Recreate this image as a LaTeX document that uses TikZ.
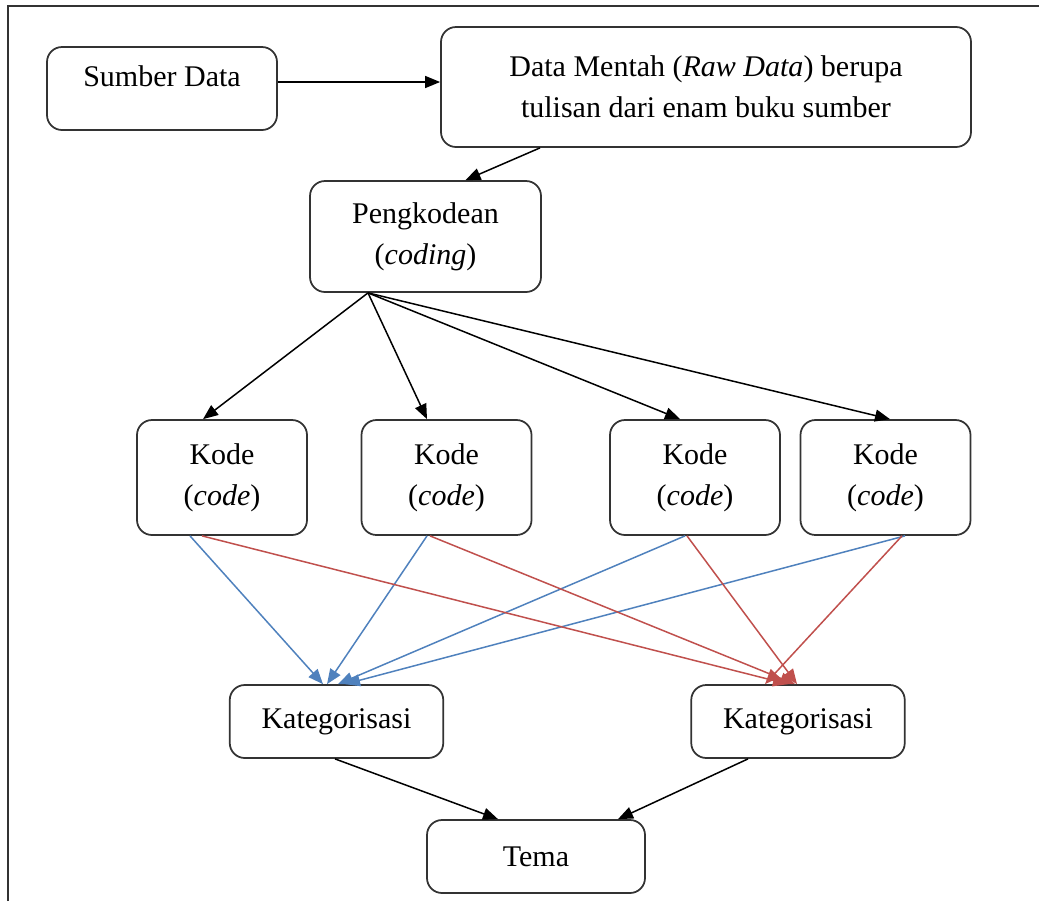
\documentclass[tikz,border=0pt]{standalone}
\usepackage{fontspec}
\setmainfont{Liberation Serif}
\usetikzlibrary{arrows.meta,calc}
\definecolor{codeblue}{RGB}{79,129,189}
\definecolor{codered}{RGB}{192,80,77}

\begin{document}
\begin{tikzpicture}[x=0.4pt,y=-0.4pt,
    box/.style={draw=black!80,line width=0.7pt,rounded corners=6pt,align=center,inner sep=0pt,
        font=\fontsize{12}{16.5}\selectfont},
    kode/.style={box,minimum width=68pt,minimum height=46pt},
    kat/.style={box,minimum width=85.4pt,minimum height=29.2pt},
    link/.style={line width=0.6pt,-{Triangle[length=6pt,width=4.8pt]}}]
    \useasboundingbox (0,0) rectangle (1039,901);
    \draw[line width=0.8pt,black!80] (8,901) -- (8,6) -- (1039,6);

    \node[box,minimum width=92pt,minimum height=33.2pt,text depth=10pt] (src) at (162,88.5) {Sumber Data};
    \node[box,minimum width=212pt,minimum height=48pt] (raw) at (706,87)
        {Data Mentah (\textit{Raw Data}) berupa\\tulisan dari enam buku sumber};
    \node[box,minimum width=92.4pt,minimum height=44.4pt] (coding) at (425.5,236.5)
        {Pengkodean\\(\textit{coding})};
    \foreach \i/\x in {1/222,2/446.5,3/695,4/885.5}
        \node[kode] (k\i) at (\x,477.5) {Kode\\(\textit{code})};
    \node[kat] (kat1) at (336.5,721.5) {Kategorisasi};
    \node[kat] (kat2) at (798,721.5) {Kategorisasi};
    \node[box,minimum width=87.2pt,minimum height=29.2pt] (tema) at (536,856.5) {Tema};

    \draw[link] ($(src.east)+(0,-6.5)$) -- ($(raw.west)+(0,-5)$);
    \draw[link] ($(raw.south)+(-166,0)$) -- ($(coding.north)+(40,0)$);
    \foreach \i/\d in {1/-19,2/-19.5,3/-15,4/4.5}
        \draw[link] ($(coding.south)+(-57.5,0)$) -- ($(k\i.north)+(\d,0)$);
    \foreach \i/\s/\e in {1/-32/-13.5,2/-19.5/-9.5,3/-10/1.5,4/19.5/8.5}
        \draw[link,codeblue] ($(k\i.south)+(\s,0)$) -- ($(kat1.north)+(\e,0)$);
    \foreach \i/\s/\e in {1/-20/-10,2/-16.5/-3,3/-8/-1,4/16.5/-33}
        \draw[link,codered] ($(k\i.south)+(\s,0)$) -- ($(kat2.north)+(\e,0)$);
    \draw[link] ($(kat1.south)+(-1.5,0)$) -- ($(tema.north)+(-38,0)$);
    \draw[link] ($(kat2.south)+(-50,0)$) -- ($(tema.north)+(82,0)$);
\end{tikzpicture}
\end{document}
